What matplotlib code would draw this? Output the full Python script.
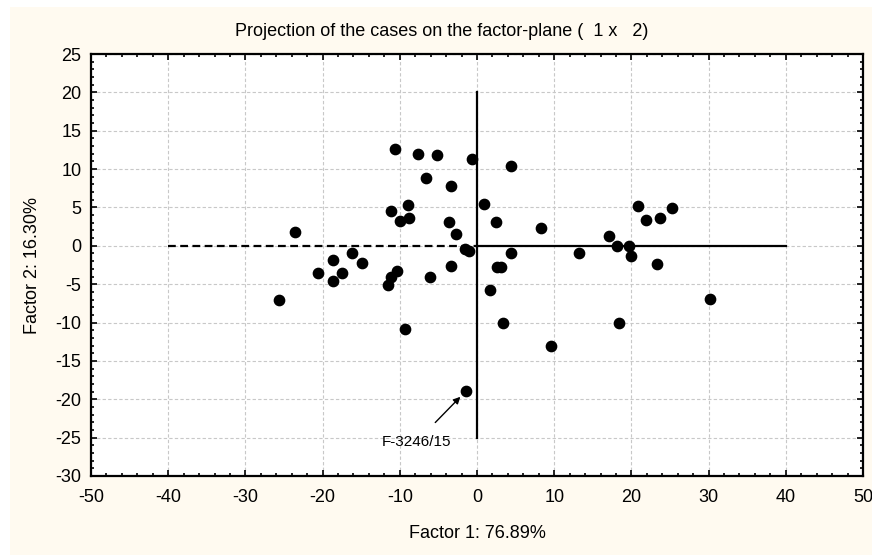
import matplotlib
matplotlib.use("Agg")
import matplotlib.pyplot as plt
from matplotlib.patches import Rectangle
from matplotlib.ticker import MultipleLocator

# Case coordinates on factor 1 / factor 2
factor1 = [-25.7, -23.6, -20.6, -18.6, -18.7, -17.5, -16.2, -14.9, -11.5, -11.2,
           -10.3, -9.3, -6.1, -3.4, -2.7, -1.55, -1.0, -1.4, 1.7, 2.55,
           3.05, 4.4, 3.4, 9.6, 13.2, 17.1, 18.1, 19.7, 19.9, 18.4,
           23.3, 30.2, -10.6, -7.6, -5.2, -0.7, 4.4, -6.6, -3.4, -9.0,
           -11.2, -10.0, -8.8, -3.6, 0.9, 2.4, 8.3, 20.9, 21.9, 23.7, 25.3]
factor2 = [-7.0, 1.8, -3.5, -1.9, -4.6, -3.5, -0.9, -2.2, -5.1, -4.0,
           -3.3, -10.9, -4.0, -2.6, 1.6, -0.35, -0.65, -18.9, -5.7, -2.7,
           -2.7, -0.9, -10.0, -13.1, -0.9, 1.3, 0.0, 0.0, -1.3, -10.0,
           -2.4, -6.95, 12.6, 12.0, 11.8, 11.3, 10.4, 8.9, 7.8, 5.3,
           4.5, 3.2, 3.6, 3.1, 5.4, 3.1, 2.35, 5.2, 3.35, 3.6, 4.9]

label_case = "F-3246/15"
label_point = (-1.4, -18.9)
label_text_pos = (-7.9, -25.6)

plt.rcParams["font.family"] = ["Liberation Sans", "DejaVu Sans"]
plt.rcParams["axes.unicode_minus"] = False

fig = plt.figure(figsize=(8.72, 5.55), dpi=100, facecolor="white")
fig.patches.append(Rectangle((10 / 872, 0), 1 - 10 / 872, 1 - 7 / 555,
                             transform=fig.transFigure, facecolor="#fffaf0",
                             edgecolor="none", zorder=-10))
ax = fig.add_axes([91 / 872, 79 / 555, 772 / 872, 422 / 555])
ax.set_facecolor("white")

ax.set_xlim(-50, 50)
ax.set_ylim(-30, 25)
ax.xaxis.set_major_locator(MultipleLocator(10))
ax.xaxis.set_minor_locator(MultipleLocator(2))
ax.yaxis.set_major_locator(MultipleLocator(5))
ax.yaxis.set_minor_locator(MultipleLocator(1))
ax.tick_params(which="both", direction="in", top=True, right=True,
               labelsize=13, width=1.2)
ax.tick_params(which="major", length=4)
ax.tick_params(which="minor", length=2.5)
ax.tick_params(axis="x", pad=9)
ax.tick_params(axis="y", pad=7)
for sp in ax.spines.values():
    sp.set_linewidth(1.6)
ax.grid(True, which="major", color="#c8c8c8", linestyle=(0, (3, 2)), linewidth=0.8)
ax.set_axisbelow(True)

# axis lines through the origin
ax.plot([-40, 0], [0, 0], color="black", linewidth=1.6, linestyle=(0, (3.5, 2)))
ax.plot([0, 40], [0, 0], color="black", linewidth=1.6)
ax.plot([0, 0], [-25, 20], color="black", linewidth=1.6)

ax.scatter(factor1, factor2, s=55, color="black", zorder=3)

ax.annotate(label_case, xy=label_point, xytext=label_text_pos,
            fontsize=11, ha="center", va="center",
            arrowprops=dict(arrowstyle="-|>", color="black", lw=1,
                            shrinkA=10, shrinkB=6, mutation_scale=10))

fig.text(442 / 872, 1 - 31 / 555,
         "Projection of the cases on the factor-plane (  1 x   2)",
         fontsize=13, ha="center", va="center")
ax.set_xlabel("Factor 1: 76.89%", fontsize=13, labelpad=14)
ax.set_ylabel("Factor 2: 16.30%", fontsize=13, labelpad=10)

fig.savefig("out.png", dpi=100, facecolor=fig.get_facecolor())
